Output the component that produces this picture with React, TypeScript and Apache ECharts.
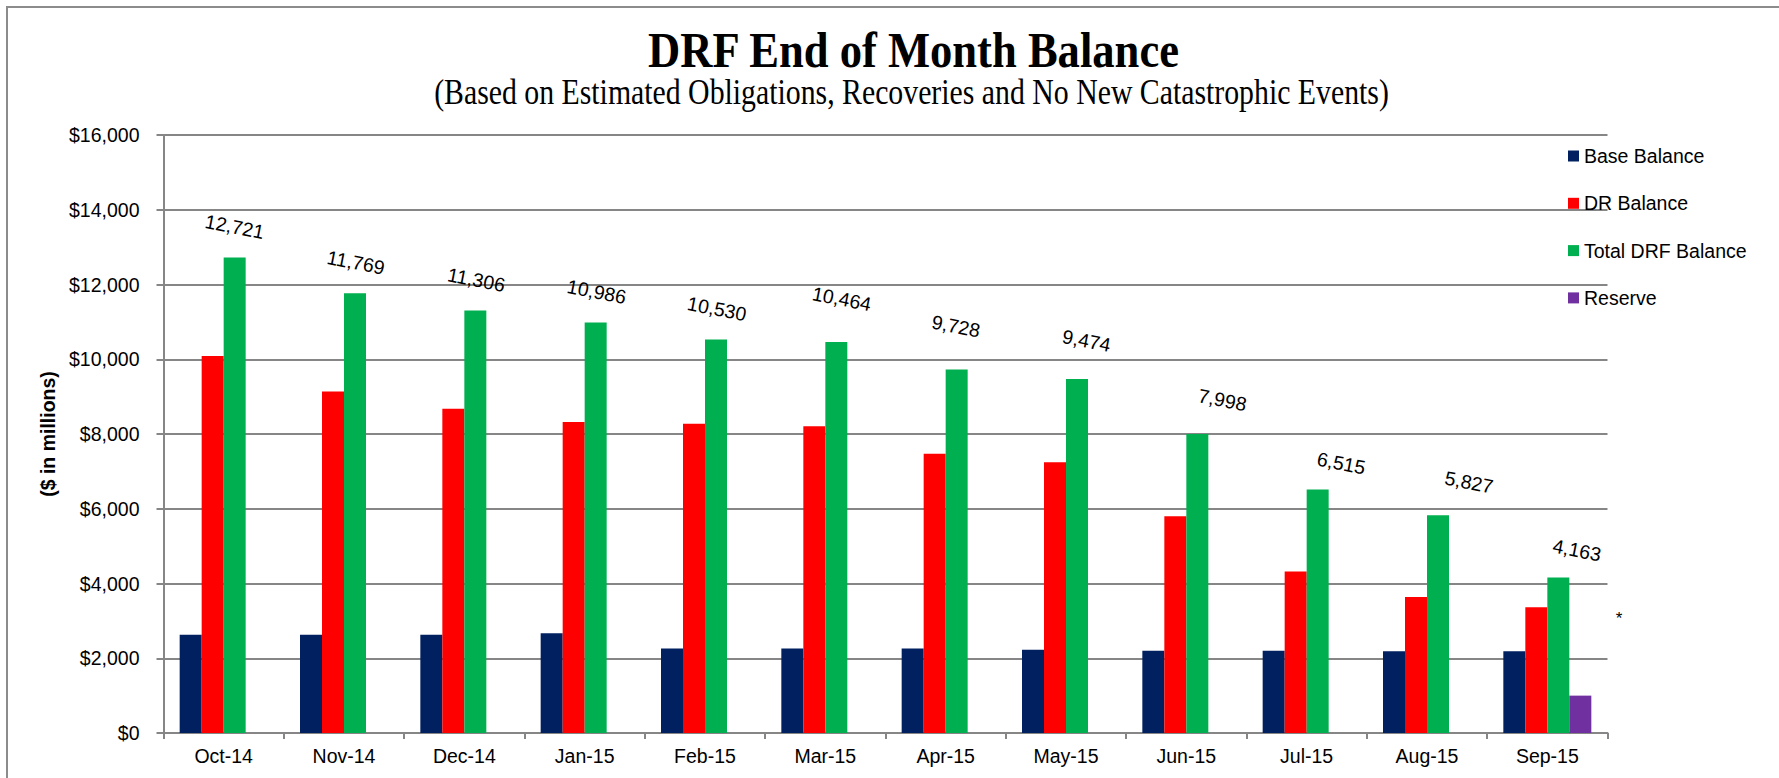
import React, { useEffect, useRef } from "react";
import * as echarts from "echarts";

const months = ["Oct-14", "Nov-14", "Dec-14", "Jan-15", "Feb-15", "Mar-15", "Apr-15", "May-15", "Jun-15", "Jul-15", "Aug-15", "Sep-15"];
const baseBalance = [2631, 2631, 2631, 2667, 2258, 2258, 2258, 2230, 2200, 2200, 2186, 2186];
const drBalance = [10090, 9138, 8675, 8319, 8272, 8206, 7470, 7244, 5798, 4320, 3636, 3363];
const totalDrf = [12721, 11769, 11306, 10986, 10530, 10464, 9728, 9474, 7998, 6515, 5827, 4163];
const reserve = [null, null, null, null, null, null, null, null, null, null, null, 1000];
const yTicks = { min: 0, max: 16000, interval: 2000 };

const FONT = "'Liberation Sans', Arial, sans-serif";
const SERIF = "'Liberation Serif', 'Times New Roman', serif";
const GRAY = "#868686";

export default function App() {
  const ref = useRef<HTMLDivElement>(null);

  useEffect(() => {
    document.body.style.margin = "0";
    if (!ref.current) return;
    const chart = echarts.init(ref.current, null, { renderer: "svg" });

    // per-label nudges (style only), [dx, dy] in px
    const labelNudge = [[0, 0], [1, 0], [1, 0], [1, 0], [1, 0], [3, -13], [-3, -12], [8, -9], [24, -8], [24, 0], [30, -8], [19, 0]];

    const barCommon = {
      type: "bar" as const,
      barWidth: 22,
      barGap: "0%",
    };

    chart.setOption({
      animation: false,
      backgroundColor: "#ffffff",
      grid: { left: 163.5, right: 171.5, top: 135, bottom: 45, containLabel: false },
      legend: {
        orient: "vertical",
        left: 1568,
        top: 146,
        padding: 0,
        itemGap: 27.3,
        itemWidth: 11,
        itemHeight: 11,
        icon: "rect",
        textStyle: { fontFamily: FONT, fontSize: 19.5, color: "#000", lineHeight: 20 },
        data: ["Base Balance", "DR Balance", "Total DRF Balance", "Reserve"],
      },
      xAxis: {
        type: "category",
        data: months,
        boundaryGap: true,
        axisLine: { show: true, lineStyle: { color: GRAY, width: 2 } },
        axisTick: { show: true, length: 6, alignWithLabel: false, lineStyle: { color: GRAY, width: 2 } },
        axisLabel: { fontFamily: FONT, fontSize: 19.5, color: "#000", margin: 13 },
        splitLine: { show: false },
      },
      yAxis: {
        type: "value",
        min: yTicks.min,
        max: yTicks.max,
        interval: yTicks.interval,
        name: "($ in millions)",
        nameLocation: "middle",
        nameRotate: 90,
        nameGap: 104,
        nameTextStyle: { fontFamily: FONT, fontSize: 19.5, fontWeight: "bold", color: "#000" },
        axisLine: { show: true, lineStyle: { color: GRAY, width: 2 } },
        axisTick: { show: true, length: 7, lineStyle: { color: GRAY, width: 2 } },
        axisLabel: {
          fontFamily: FONT,
          fontSize: 19.5,
          color: "#000",
          margin: 24,
          formatter: (v: number) => "$" + v.toLocaleString("en-US"),
        },
        splitLine: { show: true, lineStyle: { color: GRAY, width: 2 } },
      },
      graphic: [
        {
          type: "rect",
          silent: true,
          shape: { x: 7, y: 7, width: 1800, height: 800 },
          style: { fill: "none", stroke: "#8c8c8c", lineWidth: 2 },
        },
        {
          type: "text",
          x: 913.5,
          y: 49,
          scaleY: 1.15,
          style: {
            text: "DRF End of Month Balance",
            fontFamily: SERIF,
            fontWeight: "bold",
            fontSize: 44.6,
            fill: "#000",
            align: "center",
            verticalAlign: "middle",
          },
        },
        {
          type: "text",
          x: 911.5,
          y: 92,
          scaleY: 1.17,
          style: {
            text: "(Based on Estimated Obligations, Recoveries and No New Catastrophic Events)",
            fontFamily: SERIF,
            fontSize: 29.8,
            fill: "#000",
            align: "center",
            verticalAlign: "middle",
          },
        },
        {
          type: "text",
          x: 1619,
          y: 618,
          style: {
            text: "*",
            fontFamily: FONT,
            fontSize: 17,
            fill: "#000",
            align: "center",
            verticalAlign: "middle",
          },
        },
      ],
      series: [
        { ...barCommon, name: "Base Balance", data: baseBalance, itemStyle: { color: "#002060" } },
        { ...barCommon, name: "DR Balance", data: drBalance, itemStyle: { color: "#FF0000" } },
        {
          ...barCommon,
          name: "Total DRF Balance",
          itemStyle: { color: "#00B050" },
          label: {
            show: true,
            position: "top",
            distance: 31,
            rotate: -11,
            align: "center",
            verticalAlign: "middle",
            fontFamily: FONT,
            fontSize: 19.5,
            color: "#000",
            formatter: (p: any) => Number(p.value).toLocaleString("en-US"),
          },
          data: totalDrf.map((v, i) => ({ value: v, label: { offset: labelNudge[i] } })),
        },
        { ...barCommon, name: "Reserve", data: reserve, itemStyle: { color: "#7030A0" } },
      ],
    });

    return () => chart.dispose();
  }, []);

  return <div ref={ref} style={{ width: 1779, height: 778 }} />;
}
